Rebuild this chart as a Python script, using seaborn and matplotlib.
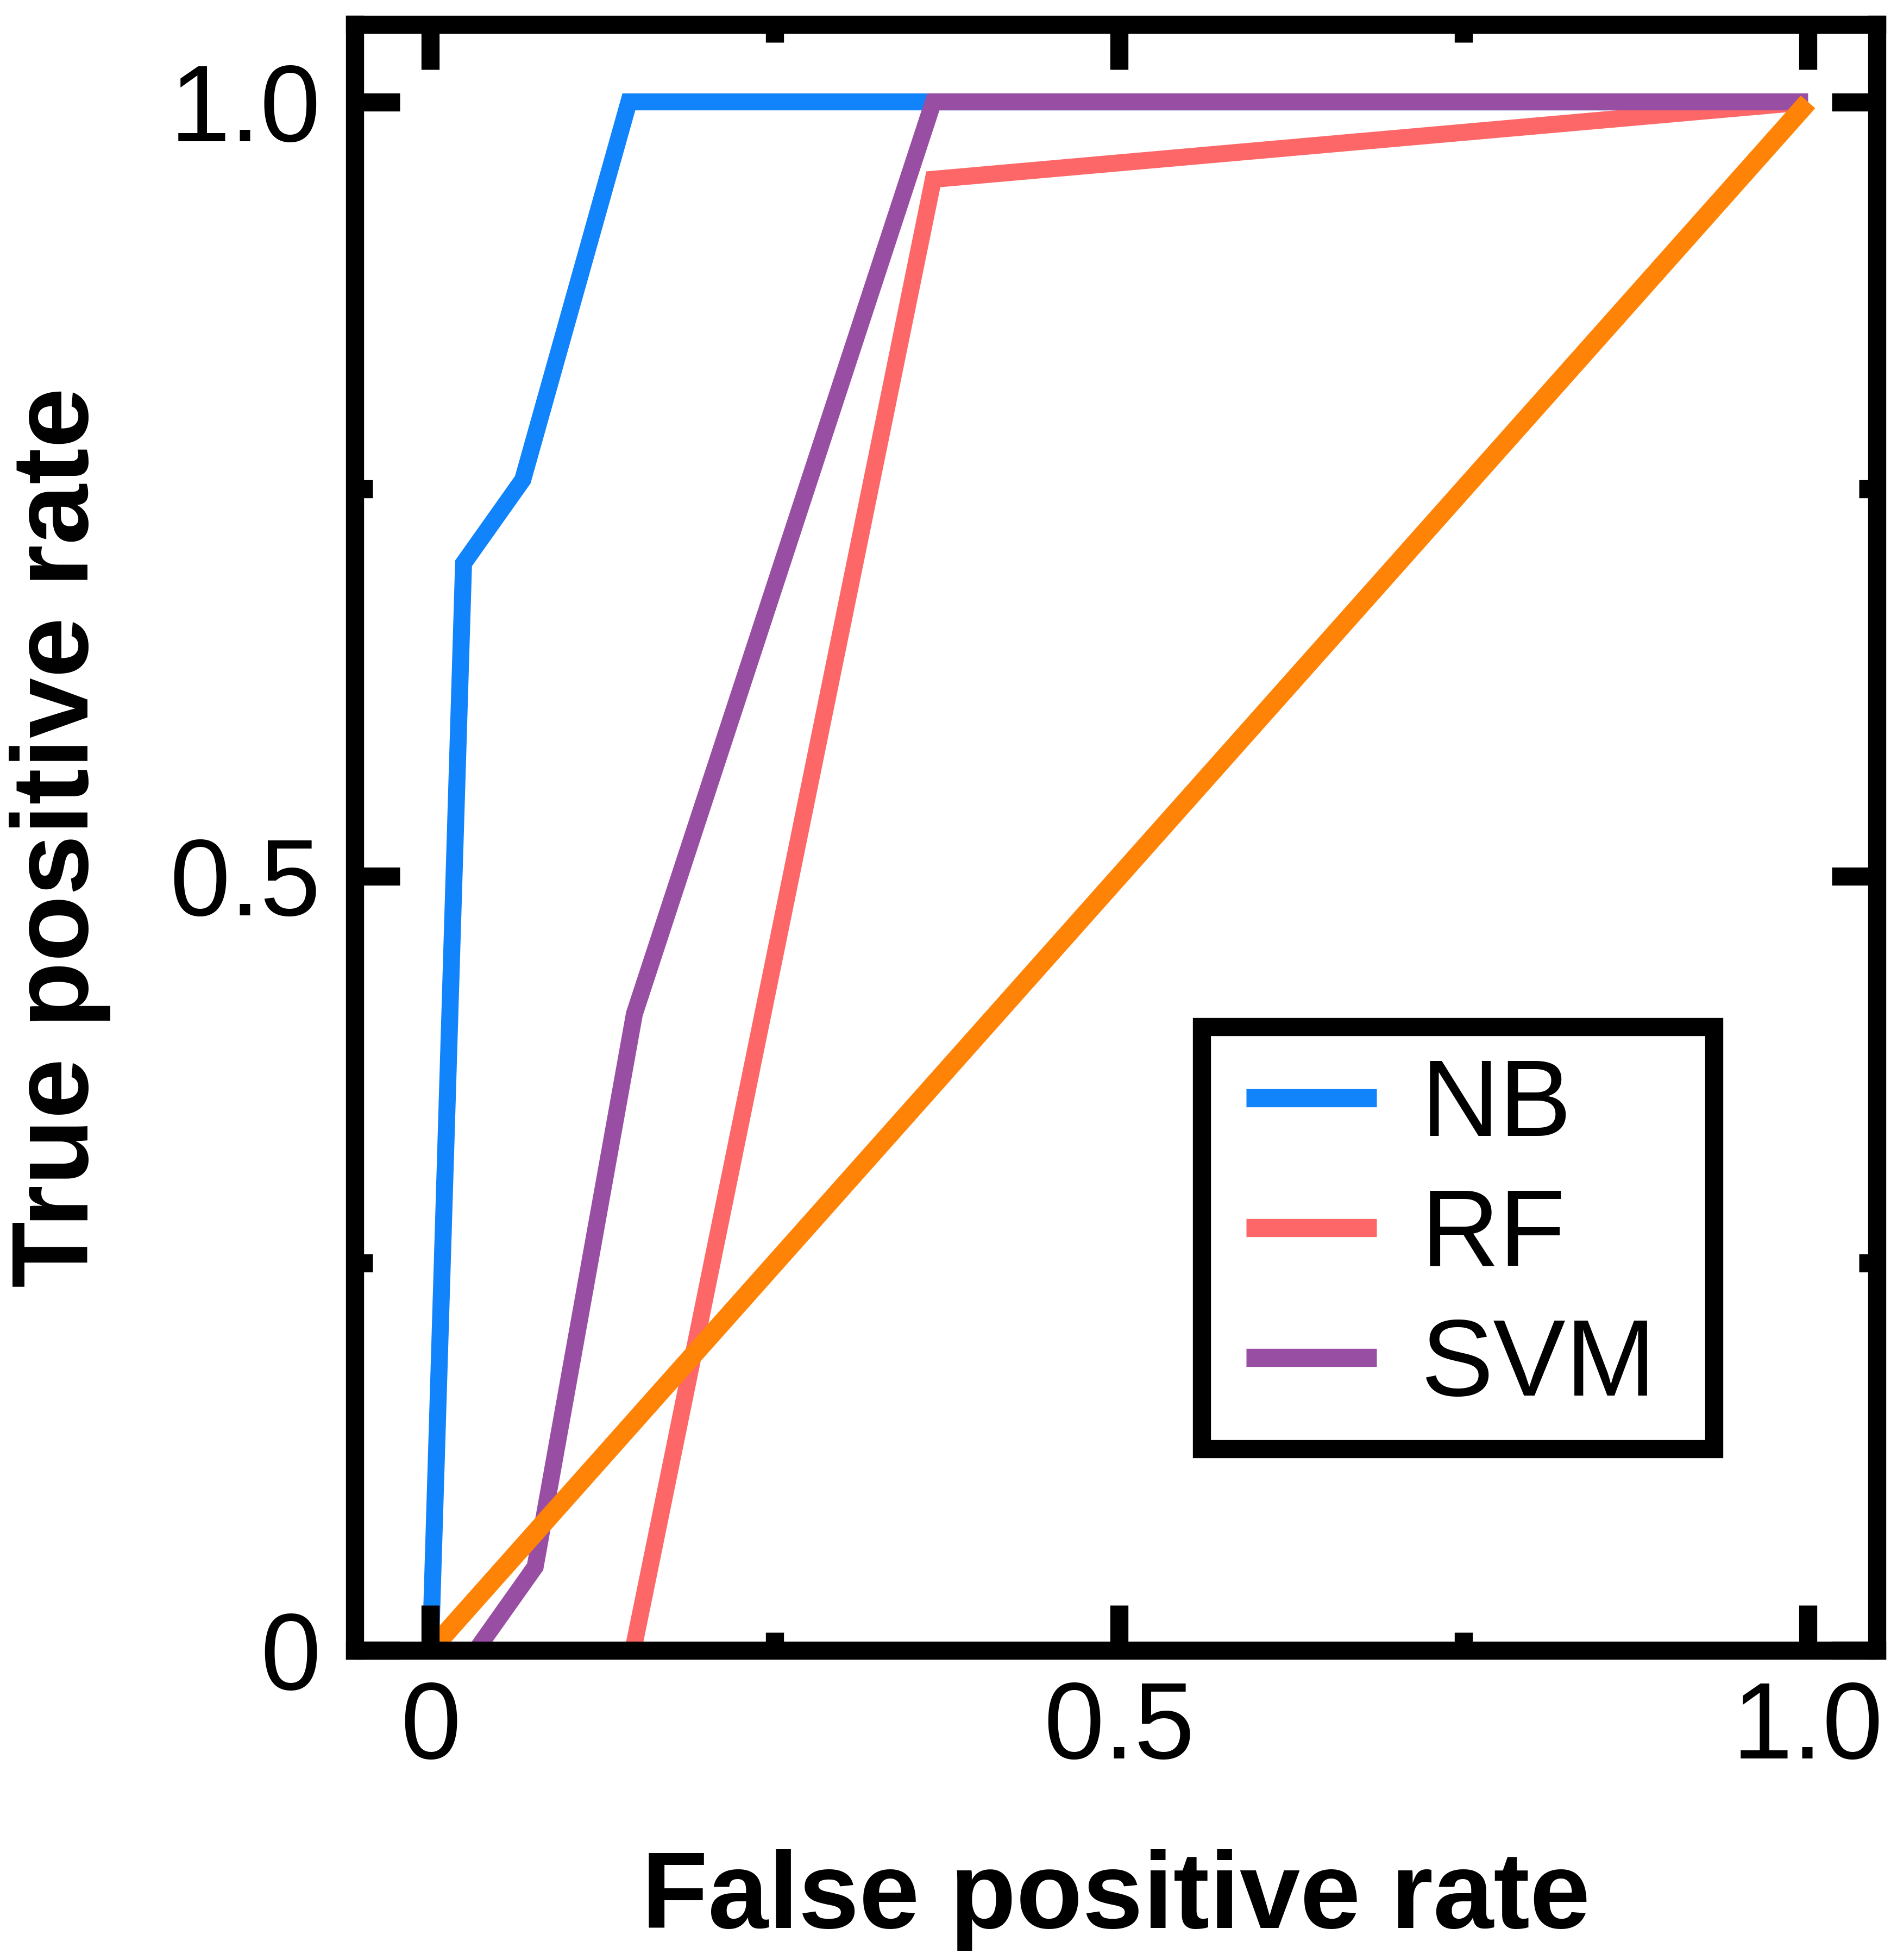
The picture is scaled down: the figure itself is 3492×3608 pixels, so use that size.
import numpy as np
import pandas as pd
import matplotlib
matplotlib.use("Agg")
import matplotlib.pyplot as plt
import seaborn as sns
from matplotlib.legend_handler import HandlerLine2D
from matplotlib.lines import Line2D

# ---- data ----
models = ["NB", "RF", "SVM"]
nb_fpr = [0.0, 0.024, 0.067, 0.144, 1.0]
nb_tpr = [0.0, 0.702, 0.756, 1.0, 1.0]
rf_fpr = [0.0, 0.147, 0.365, 1.0]
rf_tpr = [0.0, 0.0, 0.950, 1.0]
svm_fpr = [0.0, 0.033, 0.076, 0.148, 0.365, 1.0]
svm_tpr = [0.0, 0.0, 0.054, 0.411, 1.0, 1.0]
chance_fpr = [0.0, 1.0]
chance_tpr = [0.0, 1.0]

tick_values = [0.0, 0.5, 1.0]
tick_labels = ["0", "0.5", "1.0"]
minor_ticks = [0.25, 0.75]

model_colors = {"NB": "#1183FB", "RF": "#FE6767", "SVM": "#984EA3"}
chance_color = "#FF8306"

# ---- long-form table ----
rows = []
for name, fx, fy in [("NB", nb_fpr, nb_tpr), ("RF", rf_fpr, rf_tpr), ("SVM", svm_fpr, svm_tpr)]:
    for i, (a, b) in enumerate(zip(fx, fy)):
        rows.append({"model": name, "order": i, "fpr": a, "tpr": b})
df = pd.DataFrame(rows)
chance_df = pd.DataFrame({"fpr": chance_fpr, "tpr": chance_tpr})

sns.set_style("white")
plt.rcParams["font.family"] = ["Liberation Sans", "DejaVu Sans"]
plt.rcParams["text.color"] = "black"
plt.rcParams["axes.labelcolor"] = "black"
plt.rcParams["xtick.color"] = "black"
plt.rcParams["ytick.color"] = "black"

W, H, DPI = 3492, 3608, 300
fig = plt.figure(figsize=(W / DPI, H / DPI), dpi=DPI)
ax = fig.add_axes([653 / W, 1 - 3038 / H, (3455 - 653) / W, (3038 - 45) / H])

LW = 7.5
sns.lineplot(data=df, x="fpr", y="tpr", hue="model", hue_order=models,
             palette=model_colors, sort=False, estimator=None, units="model",
             linewidth=LW, solid_capstyle="butt", solid_joinstyle="miter",
             ax=ax, legend=True)
sns.lineplot(data=chance_df, x="fpr", y="tpr", color=chance_color, sort=False,
             estimator=None, linewidth=8.5, solid_capstyle="butt", ax=ax, legend=False)

ax.set_xlim(-0.055, 1.05)
ax.set_ylim(0.0, 1.05)

ax.set_xticks(tick_values)
ax.set_xticklabels(tick_labels)
ax.set_yticks(tick_values)
ax.set_yticklabels(tick_labels)
ax.set_xticks(minor_ticks, minor=True)
ax.set_yticks(minor_ticks, minor=True)
ax.set_axisbelow(False)

ax.tick_params(which="both", direction="in", top=True, right=True, bottom=True, left=True,
               width=8, color="black")
ax.tick_params(which="major", length=20, labelsize=48, labelcolor="black")
ax.tick_params(which="minor", length=8)
ax.tick_params(axis="x", which="major", pad=13)
ax.tick_params(axis="y", which="major", pad=15)

for sp in ax.spines.values():
    sp.set_visible(True)
    sp.set_linewidth(8)
    sp.set_color("black")
    sp.set_zorder(3)

ax.set_xlabel("False positive rate", fontsize=48, fontweight="bold", labelpad=30, color="black")
ax.set_ylabel("True positive rate", fontsize=48, fontweight="bold", labelpad=26, color="black")

# legend
handles, labels = ax.get_legend_handles_labels()
x0 = (2212 - 653) / (3455 - 653)
y0 = (3038 - 2667) / (3038 - 45)
wl = (3155 - 2212) / (3455 - 653)
leg = ax.legend(handles, labels, loc="lower left", bbox_to_anchor=(x0, y0, wl, 0.0),
                mode="expand", borderaxespad=0.0, fontsize=48, frameon=True,
                fancybox=False, framealpha=1.0, edgecolor="black",
                handlelength=1.33, handletextpad=0.41, labelspacing=0.26,
                borderpad=0.28, labelcolor="black",
                handler_map={Line2D: HandlerLine2D(xpad=0.13)})
leg.get_frame().set_linewidth(8)
for lh in leg.get_lines():
    lh.set_linewidth(8)
    lh.set_solid_capstyle("butt")

fig.savefig("out.png", dpi=DPI, facecolor="white")
